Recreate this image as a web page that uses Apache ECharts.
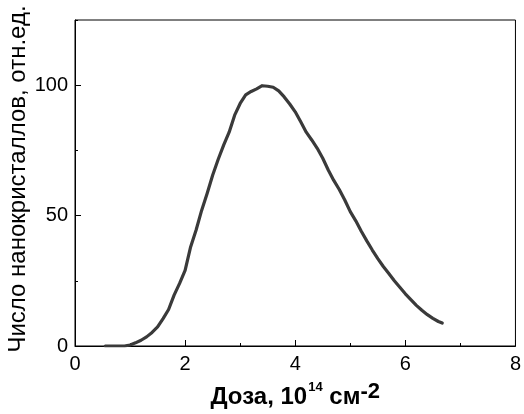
<!DOCTYPE html>
<html>
<head>
<meta charset="utf-8">
<script src="https://cdn.jsdelivr.net/npm/echarts@6/dist/echarts.min.js"></script>
<style>
html,body{margin:0;padding:0;background:#fff;}
#chart{width:524px;height:414px;}
</style>
</head>
<body>
<div id="chart"></div>
<script>
var doseValues = [0.55,0.7,0.9,1.0,1.1,1.2,1.3,1.4,1.5,1.6,1.7,1.8,1.9,2.0,2.1,2.2,2.3,2.4,2.5,2.6,2.7,2.8,2.9,3.0,3.1,3.2,3.3,3.4,3.5,3.6,3.7,3.8,3.9,4.0,4.1,4.2,4.3,4.4,4.5,4.6,4.7,4.8,4.9,5.0,5.1,5.2,5.3,5.4,5.5,5.6,5.7,5.8,5.9,6.0,6.1,6.2,6.3,6.4,6.5,6.6,6.67];
var countValues = [0,0,0,0.4,1.2,2.2,3.5,5.2,7.3,10.5,14,19.5,24,29,38,44.5,52,58.5,65.5,71.5,77,82,88.5,93,96.3,97.6,98.6,99.8,99.6,99.2,97.8,95.5,92.8,89.8,86,82,79,75.8,72,67.5,63.5,60,56,51.5,48,44,40.3,36.8,33.5,30.5,27.8,25,22.5,20,17.8,15.6,13.7,12,10.6,9.4,8.8];
var xTicks = [0,2,4,6,8];
var yTickLabels = [0,50,100];
var yTitle = 'Число нанокристаллов, отн.ед.';

var seriesData = doseValues.map(function(x,i){return [x,countValues[i]];});

var chart = echarts.init(document.getElementById('chart'), null, {renderer:'canvas'});
var font = '"Liberation Sans", Arial, sans-serif';
chart.setOption({
  animation:false,
  backgroundColor:'#fff',
  grid:{left:75,right:5,top:20,bottom:66,show:true,borderColor:'#000',borderWidth:1,backgroundColor:'transparent'},
  graphic:[{
    type:'text',x:18,y:179,rotation:Math.PI/2,
    style:{text:yTitle,fill:'#000',font:'24px '+font,align:'center',verticalAlign:'middle'}
  }],
  xAxis:{
    type:'value',min:0,max:8,interval:2,
    axisLine:{lineStyle:{color:'#000',width:1}},
    axisTick:{inside:true,length:6,lineStyle:{color:'#000'}},
    minorTick:{show:true,splitNumber:2,length:3,lineStyle:{color:'#000'}},
    splitLine:{show:false},
    axisLabel:{color:'#000',fontSize:20,fontFamily:font,margin:8,
      formatter:function(v){return xTicks.indexOf(v)>=0?String(v):'';}},
    name:'{a|Доза, 10}{s|14}{a| см}{t|-2}',
    nameLocation:'middle',nameGap:35,
    nameTextStyle:{
      rich:{
        a:{fontSize:24,fontWeight:'bold',fontFamily:font,color:'#000',verticalAlign:'bottom',lineHeight:28},
        s:{fontSize:13,fontWeight:'bold',fontFamily:font,color:'#000',verticalAlign:'top',lineHeight:28,padding:[0,0,0,1]},
        t:{fontSize:22,fontWeight:'bold',fontFamily:font,color:'#000',verticalAlign:'top',lineHeight:24}
      }
    }
  },
  yAxis:[{
    type:'value',min:0,max:125,interval:50,
    axisLine:{lineStyle:{color:'#000',width:1}},
    axisTick:{inside:true,length:6,lineStyle:{color:'#000'}},
    splitLine:{show:false},
    axisLabel:{color:'#000',fontSize:20,fontFamily:font,margin:7,showMaxLabel:false,
      formatter:function(v){return yTickLabels.indexOf(v)>=0?String(v):'';}}
  },{
    type:'value',min:0,max:125,interval:25,position:'left',
    axisLine:{show:false},
    axisTick:{inside:true,length:3,lineStyle:{color:'#000'}},
    axisLabel:{show:false},
    splitLine:{show:false}
  }],
  series:[{
    type:'line',
    data:seriesData,
    showSymbol:false,
    symbol:'none',
    smooth:false,
    lineStyle:{color:'#3a3a3a',width:3.2,join:'round',cap:'round'}
  }]
});
</script>
</body>
</html>
